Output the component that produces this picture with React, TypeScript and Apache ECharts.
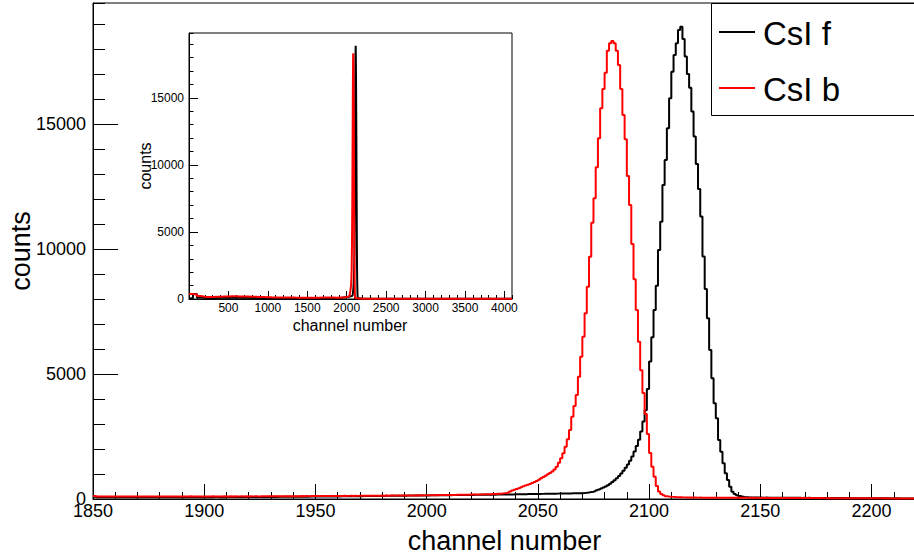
import React, { useEffect, useRef } from "react";
import * as echarts from "echarts";

const FONT = '"Liberation Sans", Arial, Helvetica, sans-serif';

// ---- axis ranges ----
const MAIN_X_MIN = 1850;
const MAIN_X_MAX = 2220;
const INSET_X_MIN = 0;
const INSET_X_MAX = 4096;
const Y_MAX = 19840;

// ---- legend / titles ----
const seriesNames = ["CsI f", "CsI b"];
const xTitle = "channel number";
const yTitle = "counts";

// ---- CsI f (black), counts per channel ----
const csiFLowStart = 1850;
const csiFLow = [
  88, 72, 68, 71, 66, 70, 67, 72, 69, 65,
  70, 68, 72, 66, 69, 71, 67, 70, 73, 68,
  71, 69, 67, 72, 70, 68, 73, 69, 71, 74,
  70, 72, 68, 73, 71, 69, 74, 72, 70, 75,
  72, 70, 74, 71, 76, 73, 71, 75, 72, 77,
  74, 72, 76, 73, 78, 75, 73, 77, 74, 79,
  76, 78, 75, 80, 77, 79, 76, 81, 78, 80,
  82, 79, 81, 84, 80, 83, 81, 85, 82, 86,
  84, 87, 83, 88, 85, 89, 87, 90, 88, 92,
  89, 93, 91, 94, 92, 96, 93, 97, 95, 99,
  96, 100, 98, 102, 99, 103, 101, 105, 103, 107,
  104, 108, 106, 110, 108, 112, 110, 114, 112, 116,
  114, 118, 116, 120, 118, 122, 120, 124, 122, 126,
  124, 127, 125, 129, 127, 131, 129, 133, 131, 135,
  133, 137, 135, 139, 137, 141, 139, 143, 141, 145,
  143, 146, 145, 148, 147, 150, 149, 152, 151, 154,
  153, 156, 155, 158, 157, 160, 159, 162, 161, 164,
  163, 166, 165, 168, 167, 170, 169, 172, 171, 174,
  173, 176, 175, 178, 178, 181, 181, 184, 184, 187,
  187, 190, 190, 193, 193, 196, 196, 199, 199, 202,
  203, 205, 206, 208, 209, 211, 212, 214, 215, 217,
  218, 220, 221, 223, 224, 226, 228, 230, 232, 234,
];
const csiFPeakStart = 2070;
const csiFPeak = [
  240, 250, 262, 276, 292, 320, 350, 385, 420, 460,
  505, 555, 615, 680, 750, 830, 920, 1020, 1130, 1250,
  1380, 1530, 1700, 1900, 2120, 2370, 2700, 3100, 3550, 4400,
  5500, 6470, 7560, 8530, 9960, 11093, 12560, 13560, 14827, 16027,
  17093, 17760, 18227, 18760, 18893, 18400, 17700, 17000, 16450, 15500,
  14500, 13400, 12400, 11300, 9700, 8400, 7227, 5960, 4827, 3827,
  3227, 2360, 1893, 1427, 1027, 760, 493, 293, 200, 150,
  120, 100, 85, 75, 68,
];
const csiFHighStart = 2145;
const csiFHigh = [
  63, 60, 58, 56, 57,
  55, 54, 56, 53, 52, 54, 51, 53, 50, 52,
  49, 51, 48, 50, 47, 49, 46, 48, 45, 47,
  44, 46, 43, 45, 42, 44, 41, 43, 40, 42,
  39, 41, 38, 40, 37, 39, 36, 38, 35, 37,
  34, 36, 33, 35, 32, 34, 31, 33, 30, 32,
  29, 31, 28, 30, 27, 29, 26, 28, 25, 27,
  24, 26, 23, 25, 22, 24, 21, 23, 20, 22,
];

// ---- CsI b (red), counts per channel ----
const csiBLowStart = 1850;
const csiBLow = [
  118, 104, 99, 102, 97, 101, 96, 103, 99, 100,
  98, 102, 97, 104, 100, 96, 101, 99, 103, 98,
  100, 97, 102, 99, 104, 98, 101, 103, 97, 100,
  102, 99, 104, 100, 97, 103, 101, 98, 105, 100,
  103, 99, 101, 106, 100, 98, 104, 102, 99, 105,
  101, 104, 100, 106, 103, 99, 105, 102, 107, 101,
  104, 106, 102, 108, 103, 105, 109, 104, 107, 103,
  108, 105, 110, 106, 104, 109, 111, 106, 108, 112,
  107, 110, 113, 109, 111, 108, 114, 110, 112, 115,
  111, 114, 112, 116, 113, 117, 115, 112, 118, 116,
  119, 115, 118, 121, 117, 120, 123, 119, 122, 120,
  124, 121, 126, 122, 125, 128, 124, 127, 125, 129,
  127, 130, 126, 131, 129, 133, 130, 132, 135, 131,
  134, 137, 133, 136, 139, 135, 138, 141, 137, 140,
  143, 139, 142, 145, 141, 146, 144, 148, 145, 150,
  148, 152, 150, 155, 153, 157, 155, 160, 158, 163,
  161, 165, 163, 168, 166, 171, 169, 174, 172, 177,
  176, 180, 179, 184, 183, 188, 187, 192, 192, 197,
];
const csiBPeakStart = 2030;
const csiBPeak = [
  202, 207, 212, 218, 226, 240, 262, 300, 340, 370,
  400, 430, 470, 510, 540, 570, 600, 640, 680, 720,
  770, 830, 880, 930, 990, 1040, 1100, 1180, 1293, 1453,
  1627, 1827, 2093, 2387, 2760, 3293, 3720, 4160, 4893, 5693,
  6493, 7427, 8492, 9692, 11052, 12028, 13268, 14428, 15628, 16400,
  17052, 17932, 18228, 18320, 18228, 17932, 17360, 16400, 15360, 14388,
  12920, 11760, 10200, 8788, 7560, 6293, 5150, 4240, 3400, 2600,
  1840, 1290, 890, 520, 300, 200, 150, 115, 100, 90,
];
const csiBHighStart = 2110;
const csiBHigh = [
  85, 78, 74, 70, 67, 65, 62, 60, 59, 57,
  56, 55, 57, 54, 53, 55, 52, 54, 51, 53,
  50, 52, 49, 51, 48, 50, 49, 47, 50, 48,
  46, 49, 47, 45, 48, 46, 44, 47, 45, 43,
  46, 44, 42, 45, 43, 41, 44, 42, 40, 43,
  41, 39, 42, 40, 38, 41, 39, 37, 40, 38,
  36, 39, 37, 35, 38, 36, 34, 37, 35, 33,
  36, 34, 32, 35, 33, 31, 34, 32, 30, 33,
  31, 29, 32, 30, 28, 31, 29, 27, 30, 28,
  26, 29, 27, 25, 28, 26, 24, 27, 25, 23,
  26, 24, 22, 25, 23, 21, 24, 22, 20, 23,
];

// ---- inset: full range, coarse background bins (50 channels) ----
const insetBin = 50;
const insetLowStart = 0;
const csiFInsetLow = [
  60, 380, 110, 85, 80, 80, 82, 84, 86, 88,
  90, 90, 88, 86, 84, 82, 80, 78, 76, 74,
  72, 70, 70, 69, 69, 68, 68, 68, 68, 68,
  68, 68, 69, 69, 70, 70, 70,
];
const csiBInsetLow = [
  380, 330, 220, 170, 150, 150, 160, 170, 180, 190,
  200, 200, 195, 190, 185, 175, 165, 155, 145, 135,
  125, 120, 115, 110, 108, 105, 103, 102, 100, 100,
  100, 101, 102, 103, 104, 106, 110,
];
const insetHighStart = 2220;
const csiFInsetHigh = [
  22, 22, 21, 21, 21, 20, 20, 20, 20, 19,
  19, 19, 19, 18, 18, 18, 18, 18, 17, 17,
  17, 17, 17, 16, 16, 16, 16, 16, 15, 15,
  15, 15, 15, 15, 14, 14, 14, 14,
];
const csiBInsetHigh = [
  22, 21, 21, 20, 20, 20, 19, 19, 19, 18,
  18, 18, 18, 17, 17, 17, 17, 16, 16, 16,
  16, 16, 15, 15, 15, 15, 15, 14, 14, 14,
  14, 14, 14, 13, 13, 13, 13, 13,
];

type Pt = [number, number];
function seg(start: number, step: number, values: number[]): Pt[] {
  return values.map((v, i) => [start + i * step, v] as Pt);
}
function hist(segs: Pt[][], end: number): Pt[] {
  const pts = segs.flat().sort((a, b) => a[0] - b[0]);
  const last = pts[pts.length - 1];
  pts.push([end, last[1]]);
  return pts;
}

const fMainSegs = [
  seg(csiFLowStart, 1, csiFLow),
  seg(csiFPeakStart, 1, csiFPeak),
  seg(csiFHighStart, 1, csiFHigh),
];
const bMainSegs = [
  seg(csiBLowStart, 1, csiBLow),
  seg(csiBPeakStart, 1, csiBPeak),
  seg(csiBHighStart, 1, csiBHigh),
];

export default function App() {
  const ref = useRef<HTMLDivElement>(null);
  useEffect(() => {
    if (!ref.current) return;
    const chart = echarts.init(ref.current, undefined, { renderer: "svg" });

    const fMain = hist(fMainSegs, MAIN_X_MAX);
    const bMain = hist(bMainSegs, MAIN_X_MAX);
    const fInset = hist(
      [seg(insetLowStart, insetBin, csiFInsetLow), ...fMainSegs, seg(insetHighStart, insetBin, csiFInsetHigh)],
      INSET_X_MAX
    );
    const bInset = hist(
      [seg(insetLowStart, insetBin, csiBInsetLow), ...bMainSegs, seg(insetHighStart, insetBin, csiBInsetHigh)],
      INSET_X_MAX
    );

    const blk = "#000000";
    const red = "#ff0000";
    const fmt = (v: number) => String(v);

    const majorAxis = (o: any) => ({
      type: "value",
      splitLine: { show: false },
      axisLine: { show: true, onZero: false, lineStyle: { color: blk, width: 1 } },
      ...o,
    });

    const option: any = {
      animation: false,
      textStyle: { fontFamily: FONT },
      grid: [
        {
          left: 93, top: 3, width: 823, height: 496,
          show: true, borderColor: blk, borderWidth: 1, backgroundColor: "transparent",
          containLabel: false, outerBoundsMode: "none",
        },
        {
          left: 189, top: 33, width: 323, height: 266,
          show: true, borderColor: blk, borderWidth: 1, backgroundColor: "#ffffff",
          containLabel: false, outerBoundsMode: "none",
        },
      ],
      xAxis: [
        majorAxis({
          gridIndex: 0, position: "bottom", min: MAIN_X_MIN, max: MAIN_X_MAX, interval: 50,
          axisTick: { show: true, inside: true, length: 15, lineStyle: { color: blk } },
          axisLabel: { show: true, color: blk, fontSize: 18, fontFamily: FONT, margin: 3, formatter: fmt, showMaxLabel: false },
        }),
        majorAxis({
          gridIndex: 0, position: "bottom", min: MAIN_X_MIN, max: MAIN_X_MAX, interval: 10,
          axisLine: { show: false, onZero: false },
          axisTick: { show: true, inside: true, length: 7, lineStyle: { color: blk } },
          axisLabel: { show: false },
        }),
        majorAxis({
          gridIndex: 1, position: "bottom", min: INSET_X_MIN, max: INSET_X_MAX, interval: 500,
          axisTick: { show: true, inside: true, length: 8, lineStyle: { color: blk } },
          axisLabel: { show: true, color: blk, fontSize: 12, fontFamily: FONT, margin: 3, formatter: fmt, showMinLabel: false, showMaxLabel: false },
        }),
        majorAxis({
          gridIndex: 1, position: "bottom", min: INSET_X_MIN, max: INSET_X_MAX, interval: 100,
          axisLine: { show: false, onZero: false },
          axisTick: { show: true, inside: true, length: 4, lineStyle: { color: blk } },
          axisLabel: { show: false },
        }),
      ],
      yAxis: [
        majorAxis({
          gridIndex: 0, position: "left", min: 0, max: Y_MAX, interval: 5000,
          axisTick: { show: true, inside: true, length: 25, lineStyle: { color: blk } },
          axisLabel: { show: true, color: blk, fontSize: 18, fontFamily: FONT, margin: 7, formatter: fmt, showMaxLabel: false },
        }),
        majorAxis({
          gridIndex: 0, position: "left", min: 0, max: Y_MAX, interval: 1000,
          axisLine: { show: false, onZero: false },
          axisTick: { show: true, inside: true, length: 12, lineStyle: { color: blk } },
          axisLabel: { show: false },
        }),
        majorAxis({
          gridIndex: 1, position: "left", min: 0, max: Y_MAX, interval: 5000,
          axisTick: { show: true, inside: true, length: 9, lineStyle: { color: blk } },
          axisLabel: { show: true, color: blk, fontSize: 12, fontFamily: FONT, margin: 5, formatter: fmt, showMaxLabel: false },
        }),
        majorAxis({
          gridIndex: 1, position: "left", min: 0, max: Y_MAX, interval: 1000,
          axisLine: { show: false, onZero: false },
          axisTick: { show: true, inside: true, length: 4.5, lineStyle: { color: blk } },
          axisLabel: { show: false },
        }),
      ],
      series: [
        {
          type: "line", name: seriesNames[0], xAxisIndex: 0, yAxisIndex: 0, data: fMain,
          step: "end", symbol: "none", showSymbol: false, clip: true,
          lineStyle: { color: blk, width: 2 }, itemStyle: { color: blk }, z: 3,
        },
        {
          type: "line", name: seriesNames[1], xAxisIndex: 0, yAxisIndex: 0, data: bMain,
          step: "end", symbol: "none", showSymbol: false, clip: true,
          lineStyle: { color: red, width: 2 }, itemStyle: { color: red }, z: 4,
        },
        {
          type: "line", name: seriesNames[0] + " (full)", xAxisIndex: 2, yAxisIndex: 2, data: fInset,
          step: "end", symbol: "none", showSymbol: false, clip: true,
          lineStyle: { color: blk, width: 2 }, itemStyle: { color: blk }, z: 5,
        },
        {
          type: "line", name: seriesNames[1] + " (full)", xAxisIndex: 2, yAxisIndex: 2, data: bInset,
          step: "end", symbol: "none", showSymbol: false, clip: true,
          lineStyle: { color: red, width: 2 }, itemStyle: { color: red }, z: 6,
        },
      ],
      graphic: [
        {
          type: "text", x: 504.5, y: 541, z: 50,
          style: { text: xTitle, x: 0, y: 0, fill: blk, fontSize: 27, fontFamily: FONT, align: "center", verticalAlign: "middle", textAlign: "center", textVerticalAlign: "middle" },
        },
        {
          type: "text", x: 21, y: 251, rotation: Math.PI / 2, z: 50,
          style: { text: yTitle, x: 0, y: 0, fill: blk, fontSize: 27, fontFamily: FONT, align: "center", verticalAlign: "middle", textAlign: "center", textVerticalAlign: "middle" },
        },
        {
          type: "text", x: 350, y: 325, z: 50,
          style: { text: xTitle, x: 0, y: 0, fill: blk, fontSize: 16, fontFamily: FONT, align: "center", verticalAlign: "middle", textAlign: "center", textVerticalAlign: "middle" },
        },
        {
          type: "text", x: 145, y: 166, rotation: Math.PI / 2, z: 50,
          style: { text: yTitle, x: 0, y: 0, fill: blk, fontSize: 16, fontFamily: FONT, align: "center", verticalAlign: "middle", textAlign: "center", textVerticalAlign: "middle" },
        },
        {
          type: "rect", z: 60,
          shape: { x: 711.5, y: 3.5, width: 220, height: 112 },
          style: { fill: "#ffffff", stroke: blk, lineWidth: 1 },
        },
        {
          type: "line", z: 61,
          shape: { x1: 719, y1: 32, x2: 755, y2: 32 },
          style: { stroke: blk, lineWidth: 2 },
        },
        {
          type: "line", z: 61,
          shape: { x1: 719, y1: 88, x2: 755, y2: 88 },
          style: { stroke: red, lineWidth: 2 },
        },
        {
          type: "text", x: 763, y: 33, z: 62,
          style: { text: seriesNames[0], x: 0, y: 0, fill: blk, fontSize: 33, fontFamily: FONT, align: "left", verticalAlign: "middle", textAlign: "left", textVerticalAlign: "middle" },
        },
        {
          type: "text", x: 763, y: 89, z: 62,
          style: { text: seriesNames[1], x: 0, y: 0, fill: blk, fontSize: 33, fontFamily: FONT, align: "left", verticalAlign: "middle", textAlign: "left", textVerticalAlign: "middle" },
        },
      ],
    };

    chart.setOption(option);
    return () => chart.dispose();
  }, []);

  return (
    <div
      ref={ref}
      style={{ position: "absolute", left: 0, top: 0, width: 914, height: 559, background: "#ffffff" }}
    />
  );
}
